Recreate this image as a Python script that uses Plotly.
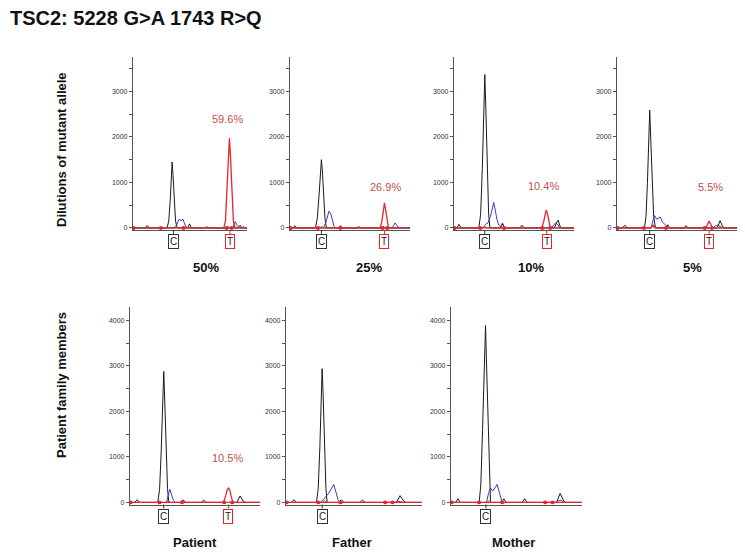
import plotly.graph_objects as go

# ---------------- data (x: relative position 0-100 along each trace, y: signal) ----------------
TITLE = "TSC2: 5228 G>A 1743 R>Q"
ROW_LABELS = ["Dilutions of mutant allele", "Patient family members"]
PANEL_LABELS = ["50%", "25%", "10%", "5%", "Patient", "Father", "Mother"]
PERCENT_LABELS = ["59.6%", "26.9%", "10.4%", "5.5%", "10.5%", None, None]

P50_BLACK = [(0,0),(10,0),(12,50),(14,0),(29.5,0),(31,150),(32.3,600),(33.3,1150),(34,1450),(34.8,1150),(35.8,600),(37,150),(38.5,0),(47.5,0),(49.4,90),(51,0),(63,0),(64.6,30),(66,0),(92,0),(93.9,60),(95.5,0),(97,25),(98.5,0),(100,0)]
P50_BLUE = [(0,0),(37,0),(38.5,100),(40,190),(41.8,160),(43.5,195),(45,90),(46.5,20),(48,0),(87.5,0),(89.5,140),(91.5,50),(93.5,0),(100,0)]
P50_GREEN = [(0,0),(35,0),(37,40),(39,0),(81,0),(83,35),(85,0),(100,0)]
P50_RED = [(0,0),(79.5,0),(81,150),(82.3,750),(83.6,1600),(84.5,1970),(85.4,1600),(86.7,750),(88,150),(89.5,0),(100,0)]
P50_DOTS = [0, 24, 44, 82, 86.5]

P25_BLACK = [(0,0),(2,0),(3.6,50),(5.5,0),(20.8,0),(22.3,200),(23.8,700),(25,1250),(25.8,1500),(26.6,1250),(27.8,700),(28.8,200),(30,0),(40,0),(41.7,45),(43.5,0),(55.5,0),(57,30),(58.5,0),(100,0)]
P25_BLUE = [(0,0),(27.5,0),(29.5,120),(31,300),(32.2,370),(33.5,320),(35,150),(36.5,30),(38,0),(85,0),(87.5,110),(90,20),(92,0),(100,0)]
P25_GREEN = [(0,0),(24,0),(26,30),(28,0),(76,0),(78,25),(80,0),(100,0)]
P25_RED = [(0,0),(75,0),(76.5,150),(77.6,400),(78.6,550),(79.6,400),(80.8,150),(82,0),(100,0)]
P25_DOTS = [0, 23, 41.7, 77, 81]

P10_BLACK = [(0,0),(2,0),(3.6,80),(5.5,0),(20.3,0),(21.8,300),(23.2,1300),(24.4,2600),(25.3,3370),(26.2,2600),(27.4,1300),(28.5,300),(29.6,0),(38.5,0),(40.3,90),(42,0),(54.5,0),(56.4,60),(58.3,0),(83.5,0),(85.5,120),(86.7,170),(88.3,40),(89.5,0),(100,0)]
P10_BLUE = [(0,0),(24,0),(26,80),(28,110),(30,250),(31.5,430),(32.8,560),(34,400),(35.5,180),(37,60),(38.5,30),(40,110),(41.5,20),(43,0),(80,0),(82.5,40),(84.5,110),(86,90),(88,0),(100,0)]
P10_GREEN = [(0,0),(23,0),(25,30),(27,0),(100,0)]
P10_RED = [(0,0),(73,0),(74.7,150),(75.8,330),(76.7,390),(77.6,330),(78.7,150),(80.2,0),(100,0)]
P10_DOTS = [0, 21.5, 41.5, 73.5, 80]

P5_BLACK = [(0,0),(4,0),(6.1,60),(8,0),(22.5,0),(23.8,250),(25,1000),(26.1,2000),(26.9,2590),(27.7,2000),(28.8,1000),(30.2,250),(31.7,0),(40.5,0),(42,70),(43.8,0),(55.5,0),(57.2,50),(59,0),(83.5,0),(85.8,160),(88,30),(89.5,0),(100,0)]
P5_BLUE = [(0,0),(28,0),(29.5,150),(31,270),(32.8,190),(34.5,220),(35.8,240),(37.5,130),(39.5,80),(41,40),(42.8,0),(80,0),(82,50),(84,60),(86,20),(88,0),(100,0)]
P5_GREEN = [(0,0),(27,0),(29,45),(31,0),(100,0)]
P5_RED = [(0,0),(28,0),(30,60),(32,0),(73.9,0),(75.3,80),(76.7,150),(78,80),(79.4,0),(100,0)]
P5_DOTS = [0, 22, 40.5, 73, 79]

PAT_BLACK = [(0,0),(3,0),(5.1,60),(7,0),(21,0),(22.4,300),(23.6,1100),(24.8,2200),(25.6,2880),(26.4,2200),(27.5,1100),(28.5,300),(29.5,0),(38.5,0),(40.5,60),(42.5,0),(54.5,0),(56.4,50),(58.5,0),(82,0),(84.6,140),(87,30),(88.5,0),(100,0)]
PAT_BLUE = [(0,0),(27.7,0),(29,150),(30.3,290),(31.8,150),(33.2,40),(34.6,0),(100,0)]
PAT_GREEN = [(0,0),(27,0),(29,40),(31,0),(100,0)]
PAT_RED = [(0,0),(71.8,0),(73.5,150),(74.6,280),(75.6,315),(76.6,280),(77.6,150),(79,0),(100,0)]
PAT_DOTS = [0, 22.3, 39.7, 72.3, 78.5]

FAT_BLACK = [(0,0),(3.5,0),(5.4,60),(7.3,0),(22,0),(23.3,300),(24.5,1200),(25.5,2300),(26.2,2940),(26.9,2400),(28,1200),(29,300),(29.9,0),(38.5,0),(40.4,60),(42.3,0),(54,0),(56,50),(58,0),(81,0),(83.8,150),(86.5,30),(88,0),(100,0)]
FAT_BLUE = [(0,0),(24.8,0),(27,60),(29,130),(31,200),(33,300),(34.8,395),(36.5,220),(38,60),(39.4,0),(80,0),(82,30),(84,20),(86,0),(100,0)]
FAT_GREEN = [(0,0),(26,0),(28,40),(30,0),(100,0)]
FAT_RED = [(0,0),(100,0)]
FAT_DOTS = [0, 23.3, 39.7, 72.8, 78.2]

MOT_BLACK = [(0,0),(3,0),(4.8,80),(6.6,0),(21.1,0),(22.4,400),(23.7,1600),(25,3000),(26,3890),(26.8,3000),(28,1600),(29,400),(29.8,0),(38.3,0),(40,80),(41.8,0),(54,0),(56,80),(58,0),(80.5,0),(83.2,200),(86,30),(87.5,0),(100,0)]
MOT_BLUE = [(0,0),(26.7,0),(28.3,200),(29.8,320),(31.5,250),(33.2,340),(34.9,395),(36.8,200),(38.7,0),(80,0),(82,40),(84,50),(86,0),(100,0)]
MOT_GREEN = [(0,0),(27,0),(29,40),(31,0),(100,0)]
MOT_RED = [(0,0),(100,0)]
MOT_DOTS = [0, 21, 38.7, 71.8, 77.4]

# base-call boxes: (label, relative x)
P50_BASES = [("C", 35.1), ("T", 85.0)]
P25_BASES = [("C", 25.8), ("T", 78.6)]
P10_BASES = [("C", 25.3), ("T", 77.2)]
P5_BASES = [("C", 26.9), ("T", 76.7)]
PAT_BASES = [("C", 25.6), ("T", 75.6)]
FAT_BASES = [("C", 26.2)]
MOT_BASES = [("C", 26.3)]

# ---------------- layout helpers ----------------
# the page body has an 8px margin: the figure is made smaller and coordinates shifted
OFF = 8
W, H = 745 - 2 * OFF, 558 - 2 * OFF
def px(x): return (x - OFF) / W
def py(y): return 1 - (y - OFF) / H

TRACES = [
    (P50_BLACK, P50_BLUE, P50_GREEN, P50_RED, P50_DOTS, P50_BASES),
    (P25_BLACK, P25_BLUE, P25_GREEN, P25_RED, P25_DOTS, P25_BASES),
    (P10_BLACK, P10_BLUE, P10_GREEN, P10_RED, P10_DOTS, P10_BASES),
    (P5_BLACK, P5_BLUE, P5_GREEN, P5_RED, P5_DOTS, P5_BASES),
    (PAT_BLACK, PAT_BLUE, PAT_GREEN, PAT_RED, PAT_DOTS, PAT_BASES),
    (FAT_BLACK, FAT_BLUE, FAT_GREEN, FAT_RED, FAT_DOTS, FAT_BASES),
    (MOT_BLACK, MOT_BLUE, MOT_GREEN, MOT_RED, MOT_DOTS, MOT_BASES),
]
# pixel geometry of each panel (page coords): x0, x1, ytop, ybottom, ymax
GEOM = [
    (133, 247, 57.3, 230, 3750),
    (290, 410, 57.3, 230, 3750),
    (454, 574, 57.3, 230, 3750),
    (617, 737, 57.3, 230, 3750),
    (130, 260, 307.3, 504.5, 4290),
    (286, 422, 307.3, 504.5, 4290),
    (451, 582, 307.3, 504.5, 4290),
]
PANEL_LABEL_POS = [(206, 268), (369, 268), (531, 268), (692, 268), (195, 542), (352, 542), (513, 542)]
PERCENT_POS = [(228, 119), (385, 187), (543, 186), (710, 187), (228, 458), None, None]

FONT = "Liberation Sans, Arial, sans-serif"
COL = dict(black="#1a1a1a", blue="#3a3ac8", green="#2e9e3e", red="#e8242a")
AXC = "#555555"

fig = go.Figure()
layout = dict(width=W, height=H, margin=dict(l=0, r=0, t=0, b=0),
              paper_bgcolor="white", plot_bgcolor="white", showlegend=False)
annotations = []
shapes = []

for i, (tr, g) in enumerate(zip(TRACES, GEOM), start=1):
    black, blue, green, red, dots, bases = tr
    x0, x1, yt, yb, ymax = g
    xa, ya = f"x{i}", f"y{i}"
    for series, c, w in ((black, "black", 1.0), (blue, "blue", 1.0), (green, "green", 1.0), (red, "red", 1.3)):
        fig.add_trace(go.Scatter(x=[p[0] for p in series], y=[p[1] for p in series],
                                 mode="lines", line=dict(color=COL[c], width=w),
                                 xaxis=xa, yaxis=ya, hoverinfo="skip"))
    fig.add_trace(go.Scatter(x=dots, y=[0] * len(dots), mode="markers",
                             marker=dict(color=COL["red"], size=4),
                             xaxis=xa, yaxis=ya, hoverinfo="skip"))
    layout[f"xaxis{i}"] = dict(domain=[px(x0), px(x1)], range=[-0.5, 100], anchor=ya,
                               showline=True, linecolor=AXC, linewidth=1.2,
                               showticklabels=False, ticks="", showgrid=False, zeroline=False)
    layout[f"yaxis{i}"] = dict(domain=[py(yb), py(yt)], range=[-45, ymax], anchor=xa,
                               showline=True, linecolor=AXC, linewidth=1.2,
                               ticks="outside", ticklen=3, tickcolor=AXC, tick0=0, dtick=1000,
                               minor=dict(dtick=500, ticks="outside", ticklen=3, tickcolor=AXC),
                               tickfont=dict(family=FONT, size=7, color="#333"),
                               showgrid=False, zeroline=False)
    j = i + 7
    layout[f"yaxis{j}"] = dict(overlaying=ya, range=[-45, ymax], anchor=xa, side="left",
                               showline=False, ticks="inside", ticklen=3, tickcolor=AXC,
                               tick0=0, dtick=1000,
                               minor=dict(dtick=500, ticks="inside", ticklen=3, tickcolor=AXC),
                               showticklabels=False, showgrid=False, zeroline=False)
    # base call boxes
    for lab, bx in bases:
        bc = "#333333" if lab == "C" else COL["red"]
        annotations.append(dict(x=bx, xref=xa, y=py(yb + 12), yref="paper", text=lab,
                                showarrow=False, font=dict(family=FONT, size=10, color="#222"),
                                bordercolor=bc, borderwidth=1, borderpad=1,
                                bgcolor="white", xanchor="center", yanchor="middle"))
        shapes.append(dict(type="line", xref=xa, yref="paper", x0=bx, x1=bx,
                           y0=py(yb), y1=py(yb + 4), line=dict(color=bc, width=1)))
    lx, ly = PANEL_LABEL_POS[i - 1]
    annotations.append(dict(x=px(lx), y=py(ly), xref="paper", yref="paper",
                            xanchor="center", yanchor="middle",
                            text=f"<b>{PANEL_LABELS[i - 1]}</b>", showarrow=False,
                            font=dict(family=FONT, size=13, color="#111")))
    if PERCENT_LABELS[i - 1]:
        qx, qy = PERCENT_POS[i - 1]
        annotations.append(dict(x=px(qx), y=py(qy), xref="paper", yref="paper",
                                xanchor="center", yanchor="middle",
                                text=PERCENT_LABELS[i - 1], showarrow=False,
                                font=dict(family=FONT, size=11, color="#c0504d")))

annotations.append(dict(x=px(8), y=py(18), xref="paper", yref="paper",
                        xanchor="left", yanchor="middle",
                        text=f"<b>{TITLE}</b>", showarrow=False,
                        font=dict(family=FONT, size=20, color="#111")))
for lab, yc in zip(ROW_LABELS, (150, 385)):
    annotations.append(dict(x=px(61), y=py(yc), xref="paper", yref="paper", textangle=-90,
                            xanchor="center", yanchor="middle",
                            text=f"<b>{lab}</b>", showarrow=False,
                            font=dict(family=FONT, size=13, color="#111")))

layout["annotations"] = annotations
layout["shapes"] = shapes
fig.update_layout(**layout)
fig.write_html("out.html")
